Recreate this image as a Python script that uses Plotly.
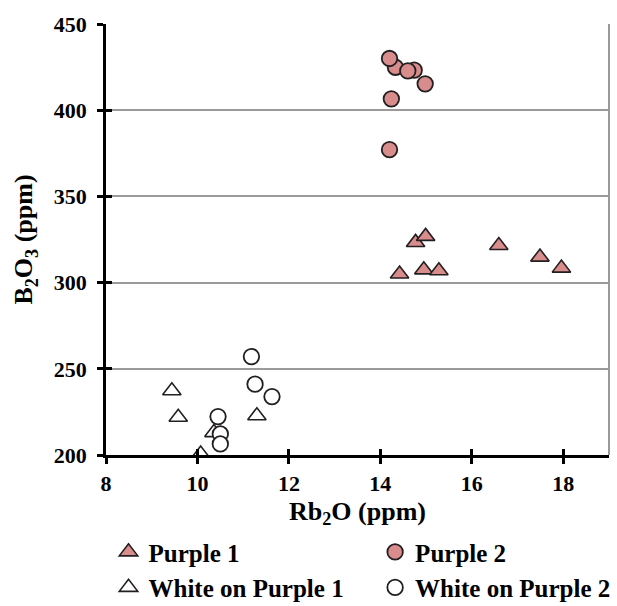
import plotly.graph_objects as go

# ---- data ----
p1_x = [14.77, 14.99, 14.42, 14.95, 15.28, 16.59, 17.49, 17.96]
p1_y = [323.3, 326.8, 305.0, 307.4, 306.9, 321.5, 314.8, 308.4]

p2_x = [14.33, 14.74, 14.20, 14.60, 14.98, 14.24, 14.20]
p2_y = [424.9, 423.2, 430.0, 422.8, 415.3, 406.6, 377.1]

wp1_x = [9.44, 9.58, 11.30, 10.07, 10.36]
wp1_y = [237.3, 221.9, 222.8, 200.6, 213.0]

wp2_x = [11.18, 11.26, 11.63, 10.50, 10.45, 10.50]
wp2_y = [257.1, 241.1, 233.9, 212.2, 222.3, 206.4]

x_range = [8, 19]
y_range = [200, 450]
x_ticks = [8, 10, 12, 14, 16, 18]
y_ticks = [200, 250, 300, 350, 400, 450]

series_names = ["Purple 1", "Purple 2", "White on Purple 1", "White on Purple 2"]

PINK = "#D98C8C"
EDGE = "#231F20"
FONT = "Liberation Serif"

fig = go.Figure()

fig.add_trace(go.Scatter(x=p1_x, y=p1_y, mode="markers", name=series_names[0],
                         marker=dict(symbol="triangle-up", size=16, color=PINK,
                                     line=dict(color=EDGE, width=1.6)),
                         legend="legend", legendgroup="a"))
fig.add_trace(go.Scatter(x=p2_x, y=p2_y, mode="markers", name=series_names[1],
                         marker=dict(symbol="circle", size=15.5, color=PINK,
                                     line=dict(color=EDGE, width=1.8)),
                         legend="legend2", legendgroup="b"))
fig.add_trace(go.Scatter(x=wp1_x, y=wp1_y, mode="markers", name=series_names[2],
                         marker=dict(symbol="triangle-up", size=16, color="white",
                                     line=dict(color=EDGE, width=1.6)),
                         legend="legend", legendgroup="c"))
fig.add_trace(go.Scatter(x=wp2_x, y=wp2_y, mode="markers", name=series_names[3],
                         marker=dict(symbol="circle", size=15.5, color="white",
                                     line=dict(color=EDGE, width=1.8)),
                         legend="legend2", legendgroup="d"))
# empty trace to host the overlay axes (inside half of crossing ticks)
fig.add_trace(go.Scatter(x=[], y=[], xaxis="x2", yaxis="y2", showlegend=False,
                         hoverinfo="skip"))

tick_font = dict(family=FONT, size=22, color="black", weight="bold")
title_font = dict(family=FONT, size=26, color="black", weight="bold")
legend_font = dict(family=FONT, size=25, color="black", weight="bold")

fig.update_layout(
    width=617, height=606,
    margin=dict(l=106, r=8, t=24, b=151, autoexpand=False),
    paper_bgcolor="white", plot_bgcolor="white",
    showlegend=True,
    xaxis=dict(range=x_range, tickvals=x_ticks, showgrid=False, zeroline=False,
               showline=True, linecolor="black", linewidth=2.8,
               ticks="outside", ticklen=6, tickwidth=2.5, tickcolor="black",
               tickfont=tick_font, ticklabelstandoff=1, automargin=False,
               title=dict(text="Rb<sub>2</sub>O (ppm)", font=title_font, standoff=7)),
    yaxis=dict(range=y_range, tickvals=y_ticks, showgrid=True, gridcolor="#9A9A9A",
               gridwidth=1.5, zeroline=False, automargin=False,
               showline=True, linecolor="black", linewidth=2.8,
               ticks="outside", ticklen=6, tickwidth=2.5, tickcolor="black",
               tickfont=tick_font, ticklabelstandoff=6,
               title=dict(text="B<sub>2</sub>O<sub>3</sub> (ppm)", font=title_font, standoff=14)),
    xaxis2=dict(range=x_range, tickvals=x_ticks, overlaying="x", anchor="y2",
                showgrid=False, zeroline=False, showline=False, showticklabels=False,
                ticks="inside", ticklen=6, tickwidth=2.5, tickcolor="black"),
    yaxis2=dict(range=y_range, tickvals=y_ticks, overlaying="y", anchor="x2",
                showgrid=False, zeroline=False, showline=False, showticklabels=False,
                ticks="inside", ticklen=6, tickwidth=2.5, tickcolor="black"),
    legend=dict(x=0.005, y=-0.172, xanchor="left", yanchor="top", orientation="v",
                font=legend_font,
                bgcolor="rgba(0,0,0,0)", tracegroupgap=0, traceorder="grouped"),
    legend2=dict(x=0.535, y=-0.172, xanchor="left", yanchor="top", orientation="v",
                 font=legend_font,
                 bgcolor="rgba(0,0,0,0)", tracegroupgap=0, traceorder="grouped"),
    shapes=[dict(type="line", xref="x domain", yref="y domain", x0=1, x1=1, y0=0, y1=1,
                 line=dict(color="#9A9A9A", width=2))],
)

fig.write_html("out.html")
